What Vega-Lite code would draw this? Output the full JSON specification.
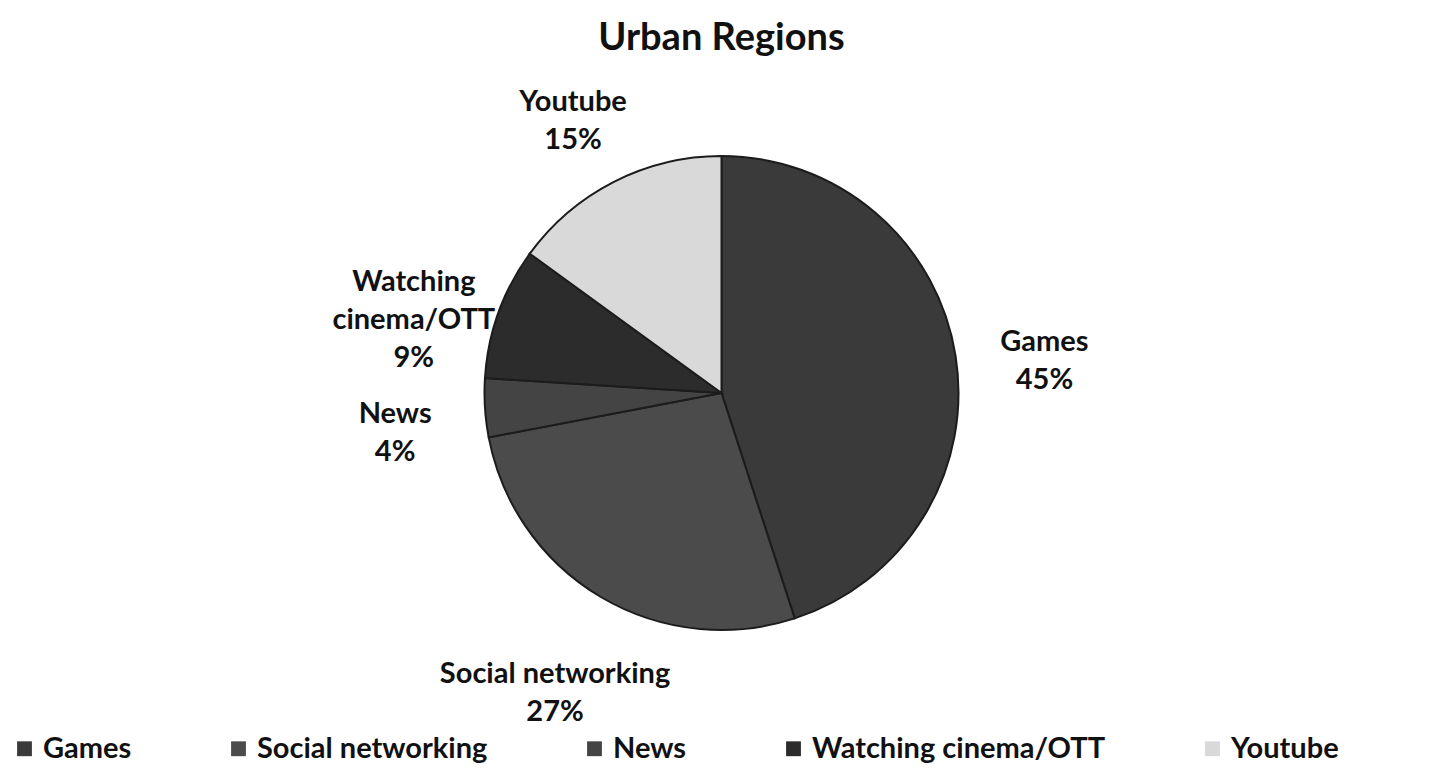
{
  "$schema": "https://vega.github.io/schema/vega-lite/v6.json",
  "autosize": {"type": "fit", "contains": "padding"},
  "width": 1443,
  "height": 772,
  "padding": {"top": 20, "left": 10, "right": 10, "bottom": 8},
  "background": "#ffffff",
  "title": {"text": "Urban Regions", "font": "Lato", "fontSize": 38, "fontWeight": "bold", "color": "#111111", "anchor": "middle", "offset": 6},
  "data": {"values": [
    {"category": "Games", "value": 45, "label": "Games|45%", "order": 1},
    {"category": "Social networking", "value": 27, "label": "Social networking|27%", "order": 2},
    {"category": "News", "value": 4, "label": "News|4%", "order": 3},
    {"category": "Watching cinema/OTT", "value": 9, "label": "Watching|cinema/OTT|9%", "order": 4},
    {"category": "Youtube", "value": 15, "label": "Youtube|15%", "order": 5}
  ]},
  "encoding": {
    "theta": {"field": "value", "type": "quantitative", "stack": true},
    "order": {"field": "order", "type": "quantitative"}
  },
  "layer": [
    {
      "mark": {"type": "arc", "outerRadius": 237, "stroke": "#1c1c1c", "strokeWidth": 2},
      "encoding": {
        "color": {
          "field": "category", "type": "nominal",
          "scale": {"domain": ["Games", "Social networking", "News", "Watching cinema/OTT", "Youtube"],
                    "range": ["#3a3a3a", "#4b4b4b", "#444444", "#2c2c2c", "#d9d9d9"]},
          "legend": {"orient": "bottom", "direction": "horizontal", "title": null, "symbolType": "square", "symbolSize": 220, "symbolStrokeWidth": 0, "labelFont": "Lato", "labelFontSize": 29, "labelFontWeight": "bold", "labelColor": "#111111", "columnPadding": 92, "labelLimit": 400, "padding": 0, "offset": 12}
        }
      }
    },
    {
      "mark": {"type": "text", "radius": 327, "font": "Lato", "fontSize": 29, "fontWeight": "bold", "color": "#111111", "lineBreak": "|", "lineHeight": 38, "align": "center", "baseline": "middle"},
      "encoding": {"text": {"field": "label"}}
    }
  ],
  "config": {"view": {"stroke": null}}
}
